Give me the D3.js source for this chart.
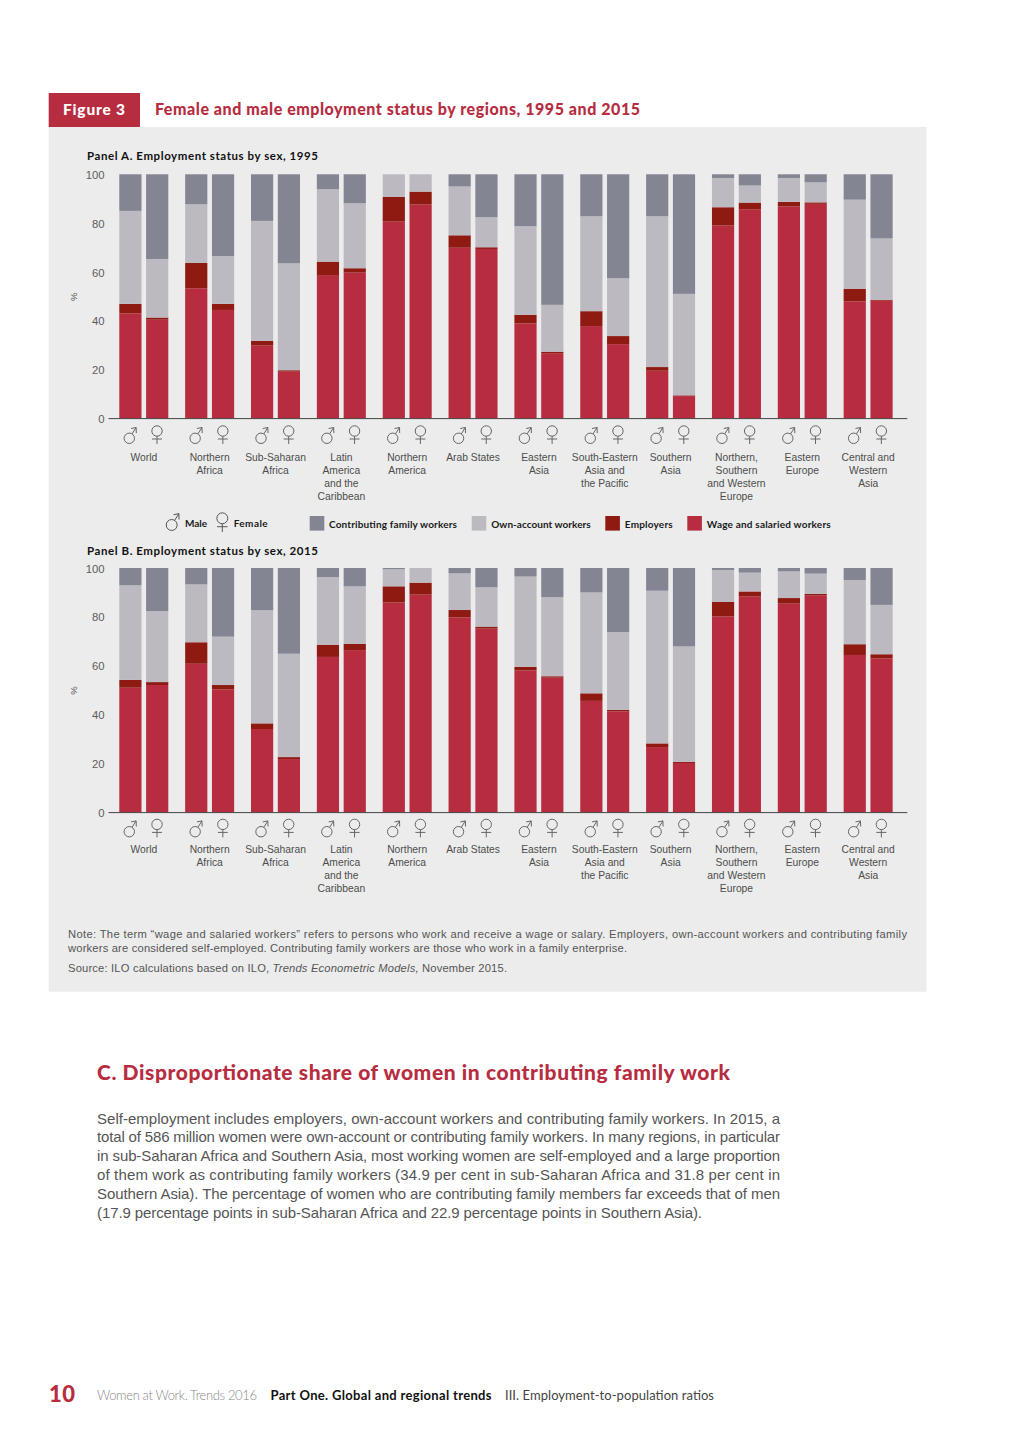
<!DOCTYPE html>
<html><head><meta charset="utf-8">
<script src="https://cdn.jsdelivr.net/npm/d3@7"></script>
<style>html,body{margin:0;padding:0;background:#fff}svg{display:block}text{font-family:"Liberation Sans",sans-serif}</style>
</head><body><svg id="c" width="1024" height="1449"></svg>
<script>
const regions=["World","Northern Africa","Sub-Saharan Africa","Latin America and the Caribbean","Northern America","Arab States","Eastern Asia","South-Eastern Asia and the Pacific","Southern Asia","Northern, Southern and Western Europe","Eastern Europe","Central and Western Asia"];
const regionLines=[["World"],["Northern","Africa"],["Sub-Saharan","Africa"],["Latin","America","and the","Caribbean"],["Northern","America"],["Arab States"],["Eastern","Asia"],["South-Eastern","Asia and","the Pacific"],["Southern","Asia"],["Northern,","Southern","and Western","Europe"],["Eastern","Europe"],["Central and","Western","Asia"]];
const sexes=["Male","Female"];
const statusKeys=["Wage and salaried workers","Employers","Own-account workers","Contributing family workers"];
const yTicks=[0,20,40,60,80,100];
// values alternate male, female for each region
const wage1995=[43,40.4,53.3,44.4,29.8,19.1,58.7,59.7,80.6,87.6,69.9,69.4,38.9,26.7,37.8,30.4,19.5,9.1,79,85.7,86.8,87.9,47.9,48.2];
const employers1995=[3.9,.9,10.4,2.5,1.9,.6,5.5,1.8,10.1,5.3,5.1,.7,3.5,.6,6.1,3.3,1.5,.3,7.5,2.7,1.9,.6,5.2,.4];
const ownAccount1995=[38.1,24,24,19.6,49.2,43.8,29.7,26.6,9.3,7.1,20,12.3,36.3,19.2,38.9,23.7,61.8,41.6,12,7,9.8,8.2,36.5,25.1];
const family1995=[15,34.7,12.3,33.5,19.1,36.5,6.1,11.9,0,0,5,17.6,21.3,53.5,17.2,42.6,17.2,49,1.5,4.6,1.5,3.3,10.4,26.3];
const wage2015=[51,52.1,60.8,50.3,34.1,21.8,63.6,66.4,85.9,89.1,79.8,75.2,58.1,55.1,45.6,41.3,26.7,20.2,80.2,88.3,85.4,88.7,64.4,63];
const employers2015=[3.2,1.2,8.8,1.8,2.3,.8,5,2.6,6.6,4.9,3,.8,1.4,.6,3.1,.6,1.5,.4,6,2.1,2.3,.7,4.4,1.7];
const ownAccount2015=[38.7,29.1,23.7,19.8,46.3,42.3,27.7,23.5,7,6,15,16.1,37,32.4,41.3,31.9,62.5,47.3,13,7.7,10.9,8.3,26.3,20.2];
const family2015=[7.1,17.6,6.7,28.1,17.3,35.1,3.7,7.5,.5,0,2.2,7.9,3.5,11.9,10,26.2,9.3,32.1,.8,1.9,1.4,2.3,4.9,15.1];

const RED="#b72c3f",DARK="#8e1a12",LIGHT="#bcb9c0",SLATE="#838592",BG="#ececec",INK="#111",TXT="#555";
const HEAD='Lato,"Noto Sans",sans-serif';
const color=d3.scaleOrdinal(statusKeys,[RED,DARK,LIGHT,SLATE]);
const svg=d3.select("#c");

function txt(s,x,y,o={}){
  const t=svg.append("text").attr("x",x).attr("y",y).attr("fill",o.fill||TXT)
    .attr("font-size",o.size||11).attr("font-weight",o.weight||400)
    .attr("text-anchor",o.anchor||"start").text(s);
  if(o.font)t.style("font-family",o.font);
  if(o.width)t.attr("textLength",o.width).attr("lengthAdjust","spacing");
  return t;
}
function maleSym(g,cx,cy,k,st){
  const r=5.2*k,tx=cx+6.8*k,ty=cy-10.8*k,n=Math.hypot(tx-cx,ty-cy);
  const sx=cx+(tx-cx)/n*r,sy=cy+(ty-cy)/n*r;
  g.append("circle").attr("cx",cx).attr("cy",cy).attr("r",r).attr("fill","none").attr("stroke",st).attr("stroke-width",1);
  g.append("path").attr("fill","none").attr("stroke",st).attr("stroke-width",1)
   .attr("d",`M${sx},${sy}L${tx},${ty}M${tx-5*k},${ty+1*k}L${tx},${ty}L${tx+.2*k},${ty+5.6*k}`);
}
function femaleSym(g,cx,cy,k,st){
  const r=5.2*k;
  g.append("circle").attr("cx",cx).attr("cy",cy).attr("r",r).attr("fill","none").attr("stroke",st).attr("stroke-width",1);
  g.append("path").attr("fill","none").attr("stroke",st).attr("stroke-width",1)
   .attr("d",`M${cx},${cy+r}V${cy+r+7.8*k}M${cx-5*k},${cy+r+2.8*k}H${cx+5*k}`);
}

svg.append("rect").attr("x",48.7).attr("y",127).attr("width",877.8).attr("height",864.7).attr("fill",BG);
svg.append("rect").attr("x",48.7).attr("y",93).attr("width",91.3).attr("height",34).attr("fill",RED);
txt("Figure 3",63,115,{fill:"#fff",size:15.5,weight:900,font:HEAD,width:62});
txt("Female and male employment status by regions, 1995 and 2015",155,115,{fill:RED,size:16,weight:900,font:HEAD,width:485});

const x0=d3.scaleBand().domain(regions).range([110.9,901.1]);
const x1=d3.scaleBand().domain(sexes).range([8.4,57.4]).paddingInner(.1716);

function panel(title,titleY,top,bottom,series,symShift,labelOffset){
  txt(title,87,titleY,{fill:INK,size:11.5,weight:700,font:HEAD,width:231});
  const y=d3.scaleLinear().domain([0,100]).range([bottom,top]);
  const rows=[];
  regions.forEach((r,i)=>sexes.forEach((s,j)=>{
    const row={region:r,sex:s};
    statusKeys.forEach((k,m)=>row[k]=series[m][i*2+j]);
    rows.push(row);
  }));
  const stacked=d3.stack().keys(statusKeys)(rows);
  svg.append("g").selectAll("g").data(stacked).join("g").attr("fill",d=>color(d.key))
    .selectAll("rect").data(d=>d).join("rect")
    .attr("x",d=>x0(d.data.region)+x1(d.data.sex)).attr("width",x1.bandwidth())
    .attr("y",d=>y(d[1])).attr("height",d=>Math.max(0,y(d[0])-y(d[1])));
  const ax=svg.append("g").attr("transform","translate(104.5,0.5)")
    .call(d3.axisLeft(y).tickValues(yTicks).tickSize(0).tickPadding(0));
  ax.select(".domain").remove();
  ax.selectAll("text").attr("fill","#5c5c5c").attr("font-size",11.3).style("font-family",'"Liberation Sans",sans-serif');
  svg.append("line").attr("x1",108.5).attr("x2",907.3).attr("y1",y(0)+.3).attr("y2",y(0)+.3).attr("stroke","#444").attr("stroke-width",1);
  svg.append("text").attr("transform",`translate(76.5,${y(50)+.5}) rotate(-90)`).attr("text-anchor","middle").attr("fill",TXT).attr("font-size",9.5).text("%");
  const g=svg.append("g");
  regions.forEach((r,i)=>{
    const mx=x0(r)+x1("Male")+x1.bandwidth()/2,fx=x0(r)+x1("Female")+x1.bandwidth()/2;
    maleSym(g,mx-1.1,bottom+20+symShift,1,"#666");
    femaleSym(g,fx-.2,bottom+12.7+symShift,1,"#666");
    regionLines[i].forEach((l,n)=>txt(l,x0(r)+x0.bandwidth()/2,bottom+labelOffset+n*13,{anchor:"middle",size:10.3,fill:"#4d4d4d"}));
  });
}
panel("Panel A.  Employment status by sex, 1995",160,174.3,418.3,[wage1995,employers1995,ownAccount1995,family1995],0,43);
panel("Panel B.  Employment status by sex, 2015",554.5,568,812.3,[wage2015,employers2015,ownAccount2015,family2015],-.6,41);

// legend
const lg=svg.append("g");
maleSym(lg,171.7,525,1.05,"#555");
femaleSym(lg,222.3,518.3,1.05,"#555");
const LS={fill:"#1a1a1a",size:10,weight:700,font:HEAD};
txt("Male",185,527,{...LS,width:22});
txt("Female",233.7,527,{...LS,width:34});
const legendX=[687.3,605.3,471.7,309.7],legendEnd=[830.7,672.7,590.7,457];
statusKeys.forEach((k,i)=>{
  lg.append("rect").attr("x",legendX[i]).attr("y",516).attr("width",14.6).attr("height",14.6).attr("fill",color(k));
  const tx=legendX[i]+(i==3?19.3:19.5);
  txt(k,tx,527.5,{...LS,width:legendEnd[i]-tx});
});

// notes
const NS={size:11.2,fill:"#555"};
txt("Note: The term “wage and salaried workers” refers to persons who work and receive a wage or salary. Employers, own-account workers and contributing family",68,938,{...NS,width:839});
txt("workers are considered self-employed. Contributing family workers are those who work in a family enterprise.",68,952,{...NS,width:559});
const src=txt("Source: ILO calculations based on ILO, ",68,971.5,NS);
src.append("tspan").attr("font-style","italic").text("Trends Econometric Models,");
src.append("tspan").text(" November 2015.");
src.attr("textLength",439).attr("lengthAdjust","spacing");

// body section
txt("C.  Disproportionate share of women in contributing family work",97,1080,{fill:RED,size:21,weight:900,font:HEAD,width:633});
const para=[["Self-employment includes employers, own-account workers and contributing family workers. In 2015, a",683],
["total of 586 million women were own-account or contributing family workers. In many regions, in particular",683],
["in sub-Saharan Africa and Southern Asia, most working women are self-employed and a large proportion",683],
["of them work as contributing family workers (34.9 per cent in sub-Saharan Africa and 31.8 per cent in",683],
["Southern Asia). The percentage of women who are contributing family members far exceeds that of men",683],
["(17.9 percentage points in sub-Saharan Africa and 22.9 percentage points in Southern Asia).",605]];
para.forEach((p,i)=>txt(p[0],97,1123.5+i*18.9,{size:15,fill:"#555",width:p[1]}));

// footer
txt("10",49,1402,{fill:RED,size:22,weight:900,font:HEAD,width:26});
txt("Women at Work. Trends 2016",97,1400,{fill:"#888",size:13,font:HEAD,weight:300,width:160});
txt("Part One. Global and regional trends",270.5,1400,{fill:"#111",size:13,font:HEAD,weight:700,width:221});
txt("III. Employment-to-population ratios",505,1400,{fill:"#444",size:13,font:HEAD,width:209});
</script></body></html>
